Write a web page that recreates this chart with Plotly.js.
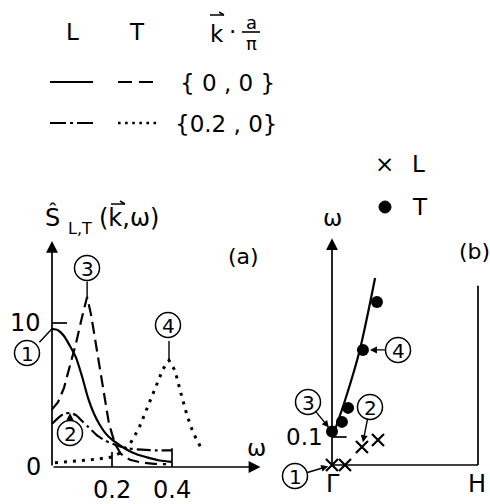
<!DOCTYPE html>
<html>
<head>
<meta charset="utf-8">
<script src="https://cdn.plot.ly/plotly-3.0.1.min.js"></script>
<style>
  html, body { margin: 0; padding: 0; background: #fff; }
  #chart { width: 490px; height: 504px; }
</style>
</head>
<body>
<div id="chart"></div>
<script>
// ---- Panel (a): dynamic structure factors S_L,T(k, omega) ----
// L, k = {0,0}  (solid, label 1)
const omegaL00 = [0, 0.02, 0.04, 0.06, 0.08, 0.10, 0.12, 0.14, 0.16, 0.18, 0.20, 0.22, 0.25, 0.28, 0.32, 0.36, 0.40];
const specL00  = [9.6, 9.5, 9.1, 8.4, 7.6, 6.3, 4.8, 3.7, 2.9, 2.3, 1.9, 1.6, 1.2, 0.9, 0.65, 0.45, 0.35];
// T, k = {0,0}  (dashed, label 3)
const omegaT00 = [0, 0.02, 0.04, 0.06, 0.08, 0.10, 0.117, 0.13, 0.15, 0.17, 0.19, 0.21, 0.23, 0.26, 0.30, 0.34, 0.38];
const specT00  = [4.0, 4.5, 5.5, 7.0, 8.6, 10.4, 11.8, 10.6, 8.0, 5.3, 3.0, 1.6, 0.9, 0.5, 0.3, 0.22, 0.2];
// L, k = {0.2,0}  (dash-dot, label 2)
const omegaL02 = [0, 0.02, 0.04, 0.06, 0.08, 0.10, 0.12, 0.15, 0.18, 0.21, 0.25, 0.30, 0.35, 0.40];
const specL02  = [3.0, 3.4, 3.7, 3.75, 3.6, 3.2, 2.8, 2.2, 1.8, 1.55, 1.3, 1.2, 1.15, 1.15];
// T, k = {0.2,0}  (dotted, label 4)
const omegaT02 = [0.01, 0.05, 0.10, 0.15, 0.20, 0.23, 0.26, 0.29, 0.32, 0.35, 0.37, 0.39, 0.41, 0.43, 0.45, 0.47, 0.50];
const specT02  = [0.3, 0.35, 0.45, 0.55, 0.7, 1.0, 1.6, 2.7, 4.2, 5.8, 6.8, 7.4, 6.7, 5.1, 3.6, 2.4, 1.2];

// axis tick labels, panel (a)
const omegaTicks = [0.2, 0.4];
const omegaTickText = ['0.2', '0.4'];
const specTicks = [0, 10];
const specTickText = ['0', '10'];

// ---- Panel (b): dispersion along Gamma-H ----
const kCurve     = [0.02, 0.09, 0.19, 0.295];
const omegaCurve = [0.125, 0.232, 0.41, 0.668];
const kT     = [0, 0.068, 0.11, 0.212, 0.308];
const omegaT = [0.12, 0.154, 0.204, 0.411, 0.582];
const kL     = [0, 0.089, 0.205, 0.315];
const omegaL = [0, 0, 0.064, 0.089];
const dispTick = 0.1;

// ---- page geometry helpers (pixels -> paper fractions) ----
const W = 490, H = 504;
const fx = p => p / W;
const fy = p => 1 - p / H;
const FONT = 'DejaVu Sans, Liberation Sans, sans-serif';
const INK = '#000';

const traces = [
  { x: omegaL00, y: specL00, xaxis: 'x', yaxis: 'y', mode: 'lines',
    line: { color: INK, width: 2.2, shape: 'spline', smoothing: 0.6 } },
  { x: omegaT00, y: specT00, xaxis: 'x', yaxis: 'y', mode: 'lines',
    line: { color: INK, width: 2.2, dash: '12px,6px' } },
  { x: omegaL02, y: specL02, xaxis: 'x', yaxis: 'y', mode: 'lines',
    line: { color: INK, width: 2.2, shape: 'spline', smoothing: 0.6, dash: '14px,4px,3px,4px' } },
  { x: omegaT02, y: specT02, xaxis: 'x', yaxis: 'y', mode: 'lines',
    line: { color: INK, width: 3, dash: '3px,6px' } },
  { x: kCurve, y: omegaCurve, xaxis: 'x2', yaxis: 'y2', mode: 'lines',
    line: { color: INK, width: 2.2, shape: 'spline', smoothing: 0.8 } },
  { x: kT, y: omegaT, xaxis: 'x2', yaxis: 'y2', mode: 'markers',
    marker: { symbol: 'circle', size: 12, color: INK } },
  { x: kL, y: omegaL, xaxis: 'x2', yaxis: 'y2', mode: 'markers',
    marker: { symbol: 'x-thin', size: 12, color: INK, line: { width: 2.2, color: INK } } }
];

const shapes = [];
const annotations = [];

function text(t, x, y, size, extra) {
  annotations.push(Object.assign({
    text: t, xref: 'paper', yref: 'paper', x: fx(x), y: fy(y),
    xanchor: 'center', yanchor: 'middle', showarrow: false,
    font: { family: FONT, size: size, color: INK }
  }, extra || {}));
}
function seg(x0, y0, x1, y1, width, dash) {
  shapes.push({ type: 'line', xref: 'paper', yref: 'paper',
    x0: fx(x0), y0: fy(y0), x1: fx(x1), y1: fy(y1),
    line: { color: INK, width: width || 2, dash: dash || 'solid' } });
}
function circled(n, cx, cy) {
  const r = 12.5;
  shapes.push({ type: 'circle', xref: 'paper', yref: 'paper',
    x0: fx(cx - r), x1: fx(cx + r), y0: fy(cy + r), y1: fy(cy - r),
    line: { color: INK, width: 1.5 } });
  text(String(n), cx, cy + 1, 20);
}
// pointer from a label to a mark (head at data point, tail offset in px)
function pointer(xa, ya, x, y, ax, ay, head, standoff) {
  annotations.push({ xref: xa, yref: ya, x: x, y: y, ax: ax, ay: ay,
    text: '', showarrow: true, arrowhead: head, arrowsize: 1, arrowwidth: 1.4,
    arrowcolor: INK, standoff: standoff || 0 });
}
// axis with arrow tip, in data coordinates
function axisArrow(xa, ya, x0, y0, x1, y1) {
  annotations.push({ xref: xa, yref: ya, axref: xa, ayref: ya,
    x: x1, y: y1, ax: x0, ay: y0, text: '', showarrow: true,
    arrowhead: 2, arrowsize: 1.4, arrowwidth: 1.7, arrowcolor: INK });
}
function dataLine(xa, ya, x0, y0, x1, y1, width) {
  shapes.push({ type: 'line', xref: xa, yref: ya, x0: x0, y0: y0, x1: x1, y1: y1,
    line: { color: INK, width: width || 1.7 } });
}

// ---- top key ----
text('L', 72, 32, 23);
text('T', 137, 32, 23);
text('k', 217, 34, 23);
seg(210, 15, 224, 15, 1.5);
seg(219, 12, 224, 15, 1.5);
text('·', 232, 32, 23);
text('a', 251, 23, 18);
seg(242, 32, 260, 32, 1.6);
text('π', 251, 43, 18);
seg(50, 82, 93, 82, 2.2);
seg(118, 82, 155, 82, 2.2, '14px,7px');
text('{ 0 , 0 }', 227, 83, 23);
seg(50, 123, 93, 123, 2.2, '16px,4px,3px,4px');
seg(118, 123, 158, 123, 2.6, '2.6px,4.5px');
text('{0.2 , 0}', 226, 124, 23);

// ---- panel (a) axes and labels ----
axisArrow('x', 'y', 0, 0, 0, 15.7);
axisArrow('x', 'y', 0, 0, 0.695, 0);
dataLine('x', 'y', 0, specTicks[1], 0.05, specTicks[1]);
dataLine('x', 'y', omegaTicks[0], 0, omegaTicks[0], 1.05);
dataLine('x', 'y', omegaTicks[1], 0, omegaTicks[1], 1.3);
specTicks.forEach((v, i) => annotations.push({ xref: 'x', yref: 'y', x: -0.03, y: v,
  text: specTickText[i], showarrow: false, xanchor: 'right', yanchor: 'middle',
  font: { family: FONT, size: 24, color: INK } }));
omegaTicks.forEach((v, i) => annotations.push({ xref: 'x', yref: 'y', x: v, y: -1.6,
  text: omegaTickText[i], showarrow: false, xanchor: 'center', yanchor: 'middle',
  font: { family: FONT, size: 24, color: INK } }));
text('Ŝ', 52, 217, 24);
text('L,T', 80, 229, 16);
text('(k,ω)', 97, 218, 24, { xanchor: 'left' });
seg(111, 204, 125, 204, 1.5);
seg(120, 201, 125, 204, 1.5);
text('(a)', 243, 256, 22);
text('ω', 256, 448, 23);

circled(1, 27, 353);
pointer('x', 'y', 0.0, 9.6, -14, 15, 0);
circled(3, 87, 268);
pointer('x', 'y', 0.117, 11.8, 0, -17, 0);
circled(4, 168, 325);
pointer('x', 'y', 0.39, 7.4, 0, -21, 0);
circled(2, 70, 433);
pointer('x', 'y', 0.06, 3.75, 0, 8, 2);

// ---- panel (b) ----
axisArrow('x2', 'y2', 0, 0, 0, 0.81);
dataLine('x2', 'y2', 0, 0, 1, 0);
dataLine('x2', 'y2', 1, 0, 1, 0.64);
dataLine('x2', 'y2', 0, dispTick, 0.1, dispTick);
annotations.push({ xref: 'x2', yref: 'y2', x: -0.05, y: dispTick, text: '0.1',
  showarrow: false, xanchor: 'right', yanchor: 'middle',
  font: { family: FONT, size: 23, color: INK } });
text('Γ', 333, 484, 24);
text('H', 477, 484, 24);
text('ω', 332, 218, 23);
text('(b)', 474, 251, 22);
text('×', 384, 164, 23);
text('L', 418, 164, 23);
shapes.push({ type: 'circle', xref: 'paper', yref: 'paper',
  x0: fx(379), x1: fx(391), y0: fy(213), y1: fy(201), fillcolor: INK, line: { color: INK, width: 1 } });
text('T', 420, 207, 23);

circled(3, 308, 402);
pointer('x2', 'y2', kT[0], omegaT[0], -18, -22, 2, 5);
circled(2, 370, 407);
pointer('x2', 'y2', kL[2], omegaL[2], 6, -30, 2, 5);
circled(4, 398, 350);
pointer('x2', 'y2', kT[3], omegaT[3], 24, 0, 2, 7);
circled(1, 295, 476);
pointer('x2', 'y2', kL[0], omegaL[0], -26, 8, 2, 4);

const hidden = { visible: false, fixedrange: true, showgrid: false, zeroline: false };
const layout = {
  width: W, height: H,
  margin: { l: 0, r: 0, t: 0, b: 0 },
  paper_bgcolor: '#fff', plot_bgcolor: 'rgba(0,0,0,0)',
  showlegend: false,
  xaxis:  Object.assign({ domain: [0, 270 / W], range: [-0.17333, 0.72667] }, hidden),
  yaxis:  Object.assign({ domain: [0, 1 - 200 / H], range: [-2.5694, 18.5417] }, hidden),
  xaxis2: Object.assign({ domain: [275 / W, 1], range: [-0.39041, 1.08219], anchor: 'y2' }, hidden),
  yaxis2: Object.assign({ domain: [0, 1 - 230 / H], range: [-0.13929, 0.83929], anchor: 'x2' }, hidden),
  shapes: shapes,
  annotations: annotations
};

Plotly.newPlot('chart', traces, layout, { staticPlot: true, displayModeBar: false });
</script>
</body>
</html>
